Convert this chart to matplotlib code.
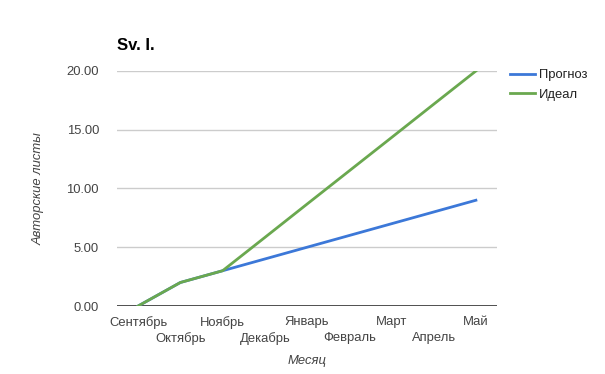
import matplotlib.pyplot as plt
import numpy as np

plt.rcParams['font.family'] = ['Liberation Sans', 'DejaVu Sans']

months = ['Сентябрь', 'Октябрь', 'Ноябрь', 'Декабрь', 'Январь',
          'Февраль', 'Март', 'Апрель', 'Май']
forecast = [0, 2, 3, 4, 5, 6, 7, 8, 9]
ideal = [0, 2, 3, 5.83, 8.67, 11.5, 14.33, 17.17, 20]
y_ticks = [0, 5, 10, 15, 20]

BLUE = '#3c78d8'
GREEN = '#6aa84f'
TEXT = '#444444'

fig = plt.figure(figsize=(6.05, 3.74), dpi=100)
ax = fig.add_axes([0.1934, 0.1818, 0.6281, 0.6284])

x = np.arange(len(months))
ax.plot(x, forecast, color=BLUE, lw=2, label='Прогноз', zorder=3)
ax.plot(x, ideal, color=GREEN, lw=2, label='Идеал', zorder=4)

ax.set_xlim(-0.5, len(months) - 0.5)
ax.set_ylim(0, 20)
ax.set_yticks(y_ticks)
ax.set_yticklabels([f'{v:.2f}' for v in y_ticks], fontsize=9.4, color=TEXT)
ax.yaxis.grid(True, color='#cccccc', lw=1)
ax.axhline(0, color='#333333', lw=1.2, zorder=2)
ax.tick_params(axis='y', length=0, pad=13)
ax.set_axisbelow(True)

ax.set_xticks(x)
ax.set_xticklabels([])
ax.tick_params(axis='x', length=0)
for i, m in enumerate(months):
    off = 0 if i % 2 == 0 else 12
    ax.annotate(m, (i, 0), xytext=(0, -7 - off), textcoords='offset points',
                ha='center', va='top', fontsize=9.4, color=TEXT,
                xycoords=('data', 'axes fraction'))

for s in ax.spines.values():
    s.set_visible(False)

fig.text(0.1934, 0.866, 'Sv. I.', fontsize=12, fontweight='bold',
         ha='left', va='baseline', color='#000000')
fig.text(0.064, 0.495, 'Авторские листы', rotation=90, fontsize=9.4,
         style='italic', color=TEXT, ha='center', va='center')
fig.text(0.508, 0.035, 'Месяц', fontsize=9.4, style='italic', color=TEXT,
         ha='center', va='center')

leg = ax.legend(loc='upper left', bbox_to_anchor=(1.02, 1.03), frameon=False,
                fontsize=9.4, handlelength=1.9, handletextpad=0.35,
                labelspacing=0.55, borderaxespad=0)
for t in leg.get_texts():
    t.set_color('#222222')

fig.savefig('out.png', dpi=100)
